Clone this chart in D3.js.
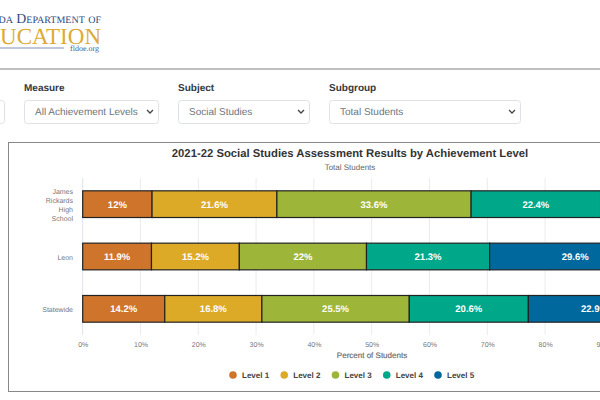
<!DOCTYPE html>
<html>
<head>
<meta charset="utf-8">
<script src="https://cdn.jsdelivr.net/npm/d3@7"></script>
<style>
html, body { margin:0; padding:0; background:#fff; overflow:hidden; }
text { font-family:"Liberation Sans", Arial, sans-serif; text-rendering:geometricPrecision; }
</style>
</head>
<body>
<div id="chart"></div>
<script>
var schools = ["James Rickards High School", "Leon", "Statewide"];
var levels = ["Level 1", "Level 2", "Level 3", "Level 4", "Level 5"];
var level1 = [12, 11.9, 14.2];
var level2 = [21.6, 15.2, 16.8];
var level3 = [33.6, 22, 25.5];
var level4 = [22.4, 21.3, 20.6];
var level5 = [10.4, 29.6, 22.9];
var ticks = [0, 10, 20, 30, 40, 50, 60, 70, 80, 90, 100];
var colors = ["#cf752b", "#dcaa27", "#9db538", "#00a88a", "#00689d"];

var svg = d3.select("#chart")
	.append("svg")
	.attr("width", 600)
	.attr("height", 400)
	.style("display", "block");

// logo
svg.append("text")
	.attr("x", 101).attr("y", 23)
	.attr("text-anchor", "end")
	.attr("font-size", "13.8px")
	.attr("fill", "#2f4a80")
	.style("font-family", "'Liberation Serif', serif")
	.style("font-variant", "small-caps")
	.text("Florida Department of");
svg.append("text")
	.attr("x", 101).attr("y", 44)
	.attr("text-anchor", "end")
	.attr("font-size", "23px")
	.attr("fill", "#dcab35")
	.style("font-family", "'Liberation Serif', serif")
	.text("EDUCATION");
svg.append("line")
	.attr("x1", 0).attr("x2", 64).attr("y1", 48).attr("y2", 48)
	.attr("stroke", "#7f8fb8");
svg.append("text")
	.attr("x", 99).attr("y", 51)
	.attr("text-anchor", "end")
	.attr("font-size", "8px")
	.attr("fill", "#4c5f8c")
	.style("font-family", "'Liberation Serif', serif")
	.text("fldoe.org");
svg.append("line")
	.attr("x1", 0).attr("x2", 600).attr("y1", 69).attr("y2", 69)
	.attr("stroke", "#aaa").attr("stroke-width", 1.5);

// filter boxes
var filterLabels = ["", "Measure", "Subject", "Subgroup"];
var filterValues = ["", "All Achievement Levels", "Social Studies", "Total Students"];
var filterLeft = [-100, 24, 178, 329];
var filterRight = [5, 159, 310, 521];

filterLeft.forEach(function(left, i){
	var right = filterRight[i];
	svg.append("rect")
		.attr("x", left + 0.5).attr("y", 100.5)
		.attr("width", right - left - 1).attr("height", 23)
		.attr("rx", 3)
		.attr("fill", "#fff").attr("stroke", "#dee2e6");
	svg.append("path")
		.attr("d", "M" + (right - 12) + ",110 l3,3 l3,-3")
		.attr("fill", "none").attr("stroke", "#444").attr("stroke-width", 1.3);
	svg.append("text")
		.attr("x", left).attr("y", 91)
		.attr("font-size", "10px").attr("font-weight", "bold")
		.attr("fill", "#343a40")
		.text(filterLabels[i]);
	svg.append("text")
		.attr("x", left + 11).attr("y", 115)
		.attr("font-size", "10px")
		.attr("fill", "#6c757d")
		.text(filterValues[i]);
});

// chart box
svg.append("rect")
	.attr("x", 8.5).attr("y", 142.5)
	.attr("width", 700).attr("height", 249)
	.attr("fill", "#fff").attr("stroke", "#888").attr("stroke-width", 1);

svg.append("text")
	.attr("x", 350).attr("y", 157)
	.attr("text-anchor", "middle")
	.attr("font-size", "11.3px").attr("font-weight", "bold")
	.attr("fill", "#333")
	.text("2021-22 Social Studies Assessment Results by Achievement Level");
svg.append("text")
	.attr("x", 350).attr("y", 170)
	.attr("text-anchor", "middle")
	.attr("font-size", "8px")
	.attr("fill", "#666")
	.text("Total Students");

var x = d3.scaleLinear().domain([0, 100]).range([82.7, 660.7]);
var y = d3.scaleBand().domain(schools).range([178, 335]).paddingInner(0.49).paddingOuter(0.245);

// grid
svg.append("g").selectAll("line")
	.data(ticks)
	.enter()
	.append("line")
		.attr("x1", function(d){ return x(d); })
		.attr("x2", function(d){ return x(d); })
		.attr("y1", 178)
		.attr("y2", 335)
		.attr("stroke", function(d){ return d == 0 ? "#dbe3ef" : "#ececf0"; });

var xAxisCall = d3.axisBottom(x)
	.tickValues(ticks)
	.tickSize(0)
	.tickFormat(function(d){ return d + "%"; });
var xAxis = svg.append("g")
	.attr("transform", "translate(0, 335)")
	.call(xAxisCall);
xAxis.select(".domain").remove();
xAxis.selectAll("text")
	.attr("y", 7)
	.attr("font-size", "7px")
	.style("font-family", "'Liberation Sans', Arial, sans-serif")
	.attr("fill", "#777");

svg.append("text")
	.attr("x", 372).attr("y", 358)
	.attr("text-anchor", "middle")
	.attr("font-size", "8px").attr("font-weight", "normal")
	.attr("stroke", "#666").attr("stroke-width", 0.15)
	.attr("fill", "#666")
	.text("Percent of Students");

// school names, wrapped one word per line
var yLabels = { "James Rickards High School": ["James", "Rickards", "High", "School"], "Leon": ["Leon"], "Statewide": ["Statewide"] };
schools.forEach(function(s){
	var lines = yLabels[s];
	var mid = y(s) + y.bandwidth() / 2;
	lines.forEach(function(t, i){
		svg.append("text")
			.attr("x", 73)
			.attr("y", mid + 3 + (i - (lines.length - 1) / 2) * 9)
			.attr("text-anchor", "end")
			.attr("font-size", "7px")
			.attr("fill", "#777")
			.text(t);
	});
});

// stacked bars
var series = [level1, level2, level3, level4, level5];
schools.forEach(function(s, i){
	var start = 0;
	series.forEach(function(vals, k){
		var v = vals[i];
		svg.append("rect")
			.attr("x", x(start))
			.attr("y", y(s))
			.attr("width", x(start + v) - x(start))
			.attr("height", y.bandwidth())
			.attr("fill", colors[k])
			.attr("stroke", "#222")
			.attr("stroke-width", 1.2);
		svg.append("text")
			.attr("x", x(start + v / 2))
			.attr("y", y(s) + y.bandwidth() / 2 + 3.5)
			.attr("text-anchor", "middle")
			.attr("font-size", "9.5px").attr("font-weight", "bold")
			.attr("fill", "#fff")
			.text(v + "%");
		start += v;
	});
});

// legend
var legendX = d3.scalePoint().domain(levels).range([233, 438]);
levels.forEach(function(l, k){
	svg.append("circle")
		.attr("cx", legendX(l))
		.attr("cy", 375)
		.attr("r", 3.8)
		.attr("fill", colors[k]);
	svg.append("text")
		.attr("x", legendX(l) + 9)
		.attr("y", 378)
		.attr("font-size", "8px").attr("font-weight", "bold")
		.attr("fill", "#444")
		.text(l);
});
</script>
</body>
</html>
